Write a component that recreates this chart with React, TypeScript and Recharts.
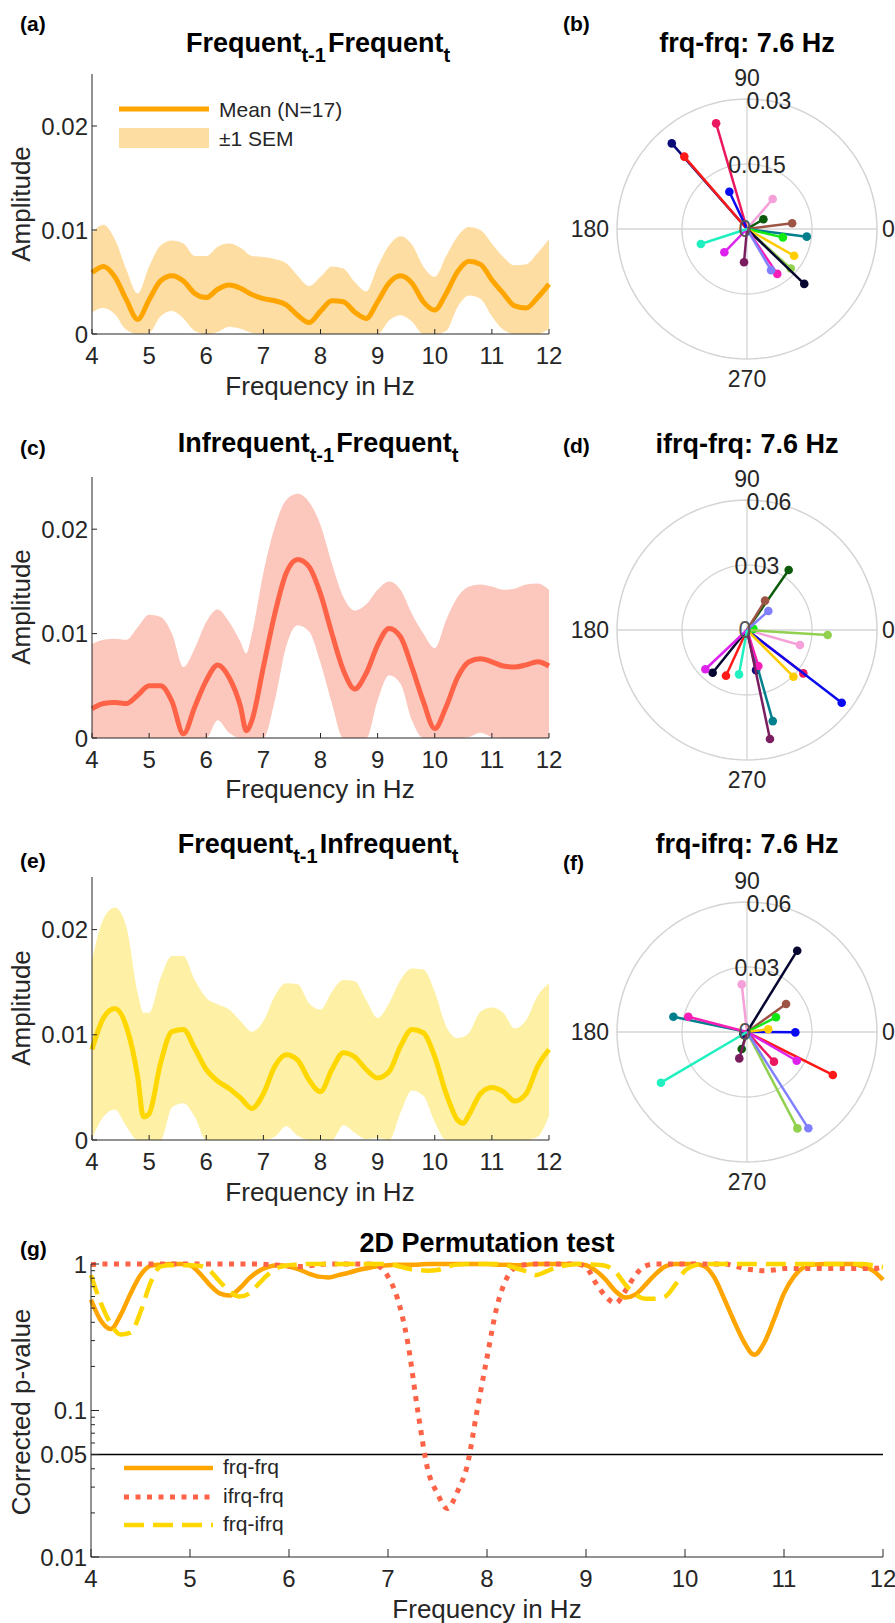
import React from "react";
import {
  ComposedChart,
  Area,
  Line,
  XAxis,
  YAxis,
  ScatterChart,
  Scatter,
  ReferenceLine,
} from "recharts";

const FONT = '"Liberation Sans", Arial, Helvetica, sans-serif';
const INK = "#262626";
const GRID = "#d4d4d4";

// (a) Frequent(t-1) -> Frequent(t)
const freqA = [4, 4.2, 4.4, 4.6, 4.8, 5, 5.2, 5.4, 5.6, 5.8, 6, 6.2, 6.4, 6.6, 6.8, 7, 7.2, 7.4, 7.6, 7.8, 8, 8.2, 8.4, 8.6, 8.8, 9, 9.2, 9.4, 9.6, 9.8, 10, 10.2, 10.4, 10.6, 10.8, 11, 11.2, 11.4, 11.6, 11.8, 12];
const meanA = [0.0059, 0.0065, 0.0055, 0.0033, 0.0014, 0.0033, 0.0051, 0.0056, 0.0051, 0.0039, 0.0035, 0.0043, 0.0047, 0.0044, 0.0038, 0.0034, 0.0032, 0.0028, 0.0018, 0.0011, 0.0022, 0.0032, 0.0031, 0.0021, 0.0015, 0.0031, 0.0049, 0.0056, 0.0049, 0.0031, 0.0023, 0.0039, 0.006, 0.007, 0.0067, 0.0052, 0.0039, 0.0027, 0.0025, 0.0035, 0.0048];
const semA = [0.0038, 0.004, 0.0036, 0.0029, 0.0025, 0.0032, 0.0034, 0.0034, 0.0036, 0.0036, 0.004, 0.0041, 0.004, 0.0039, 0.0037, 0.004, 0.004, 0.004, 0.0038, 0.0035, 0.0033, 0.0033, 0.0032, 0.0029, 0.0026, 0.0034, 0.0036, 0.0038, 0.0037, 0.0034, 0.0032, 0.0036, 0.0034, 0.0033, 0.0033, 0.0035, 0.0035, 0.0039, 0.0042, 0.0043, 0.0043];

// (c) Infrequent(t-1) -> Frequent(t)
const freqC = [4, 4.2, 4.4, 4.6, 4.8, 5, 5.2, 5.4, 5.6, 5.8, 6, 6.2, 6.4, 6.6, 6.7, 6.8, 7, 7.2, 7.4, 7.6, 7.8, 8, 8.2, 8.4, 8.6, 8.8, 9, 9.2, 9.4, 9.6, 9.8, 10, 10.2, 10.4, 10.6, 10.8, 11, 11.2, 11.4, 11.6, 11.8, 12];
const meanC = [0.0028, 0.0033, 0.0034, 0.0033, 0.0041, 0.005, 0.005, 0.0035, 0.0004, 0.003, 0.0055, 0.007, 0.0058, 0.003, 0.0007, 0.0017, 0.0068, 0.0119, 0.0158, 0.0171, 0.0164, 0.0138, 0.01, 0.0065, 0.0047, 0.0062, 0.0089, 0.0105, 0.0097, 0.0068, 0.0035, 0.0009, 0.003, 0.0058, 0.0073, 0.0076, 0.0073, 0.0069, 0.0068, 0.007, 0.0073, 0.0069];
const semC = [0.0062, 0.0061, 0.0061, 0.0061, 0.0065, 0.0068, 0.0066, 0.0065, 0.0064, 0.0056, 0.0056, 0.0053, 0.0053, 0.0062, 0.0074, 0.0083, 0.009, 0.0083, 0.007, 0.0063, 0.0062, 0.0066, 0.0067, 0.007, 0.0075, 0.0066, 0.0053, 0.0045, 0.0045, 0.0051, 0.0065, 0.0077, 0.0083, 0.0077, 0.0072, 0.0071, 0.0072, 0.0073, 0.0075, 0.0077, 0.0075, 0.0073];

// (e) Frequent(t-1) -> Infrequent(t)
const freqE = [4, 4.2, 4.4, 4.6, 4.8, 4.9, 5, 5.2, 5.4, 5.6, 5.8, 6, 6.2, 6.4, 6.6, 6.8, 7, 7.2, 7.4, 7.6, 7.8, 8, 8.2, 8.4, 8.6, 8.8, 9, 9.2, 9.4, 9.6, 9.8, 10, 10.2, 10.4, 10.5, 10.6, 10.8, 11, 11.2, 11.4, 11.6, 11.8, 12];
const meanE = [0.0086, 0.0116, 0.0125, 0.0108, 0.006, 0.0022, 0.0025, 0.0073, 0.0103, 0.0105, 0.0087, 0.0067, 0.0056, 0.0049, 0.004, 0.003, 0.0044, 0.007, 0.0081, 0.0076, 0.0057, 0.0046, 0.0067, 0.0083, 0.0079, 0.0067, 0.0059, 0.0065, 0.0089, 0.0105, 0.0102, 0.0079, 0.0044, 0.0019, 0.0016, 0.0024, 0.0044, 0.005, 0.0046, 0.0037, 0.0044, 0.007, 0.0086];
const semE = [0.0085, 0.0094, 0.0096, 0.0095, 0.008, 0.0099, 0.0096, 0.0081, 0.0072, 0.007, 0.0065, 0.0068, 0.0073, 0.0075, 0.0073, 0.0073, 0.0069, 0.0067, 0.0068, 0.0072, 0.0073, 0.0078, 0.0074, 0.0069, 0.0072, 0.0066, 0.0057, 0.0065, 0.0063, 0.0058, 0.006, 0.0062, 0.0064, 0.0078, 0.0082, 0.0078, 0.0078, 0.0076, 0.0075, 0.0069, 0.007, 0.0067, 0.0063];

// (g) corrected p-values
const freqG = [4, 4.1, 4.2, 4.3, 4.4, 4.5, 4.6, 4.7, 4.8, 4.9, 5, 5.1, 5.2, 5.3, 5.4, 5.5, 5.6, 5.7, 5.8, 5.9, 6, 6.1, 6.2, 6.3, 6.4, 6.5, 6.6, 6.7, 6.8, 6.9, 7, 7.1, 7.2, 7.3, 7.4, 7.5, 7.6, 7.7, 7.8, 7.9, 8, 8.1, 8.2, 8.3, 8.4, 8.5, 8.6, 8.7, 8.8, 8.9, 9, 9.1, 9.2, 9.3, 9.4, 9.5, 9.6, 9.7, 9.8, 9.9, 10, 10.1, 10.2, 10.3, 10.4, 10.5, 10.6, 10.7, 10.8, 10.9, 11, 11.1, 11.2, 11.3, 11.4, 11.5, 11.6, 11.7, 11.8, 11.9, 12];
const pFrqFrq = [0.57, 0.41, 0.36, 0.45, 0.63, 0.84, 0.97, 0.99, 1, 1, 0.98, 0.86, 0.72, 0.63, 0.61, 0.68, 0.8, 0.9, 0.96, 0.98, 0.96, 0.92, 0.86, 0.82, 0.81, 0.84, 0.87, 0.91, 0.94, 0.97, 0.98, 0.99, 0.99, 0.99, 1, 1, 1, 1, 1, 1, 1, 0.99, 0.99, 0.98, 0.99, 1, 1, 1, 1, 1, 0.98, 0.9, 0.78, 0.65, 0.59, 0.62, 0.72, 0.85, 0.96, 1, 1, 1, 0.96, 0.8, 0.57, 0.4, 0.29, 0.24, 0.29, 0.42, 0.63, 0.82, 0.95, 0.99, 1, 1, 1, 1, 0.96, 0.9, 0.78];
const pIfrqFrq = [0.99, 1, 1, 1, 1, 1, 1, 1, 1, 1, 1, 1, 1, 1, 1, 1, 1, 1, 0.99, 0.98, 0.97, 0.96, 0.97, 0.99, 1, 1, 1, 1, 1, 0.97, 0.82, 0.57, 0.29, 0.1, 0.04, 0.027, 0.0214, 0.0278, 0.042, 0.1, 0.23, 0.51, 0.8, 0.96, 0.99, 1, 1, 1, 1, 1, 0.95, 0.74, 0.6, 0.54, 0.66, 0.84, 0.97, 1, 1, 1, 1, 1, 1, 1, 1, 0.97, 0.93, 0.91, 0.9, 0.91, 0.93, 0.93, 0.93, 0.93, 0.93, 0.93, 0.93, 0.93, 0.93, 0.93, 0.95];
const pFrqIfrq = [0.84, 0.54, 0.39, 0.33, 0.34, 0.47, 0.74, 0.96, 0.98, 0.98, 0.98, 0.97, 0.9, 0.76, 0.65, 0.6, 0.63, 0.74, 0.86, 0.95, 0.98, 0.99, 1, 1, 1, 1, 1, 1, 1, 1, 1, 0.97, 0.93, 0.91, 0.9, 0.91, 0.96, 0.99, 1, 1, 1, 1, 0.98, 0.93, 0.89, 0.84, 0.89, 0.95, 0.98, 1, 1, 0.99, 0.97, 0.88, 0.72, 0.62, 0.58, 0.58, 0.6, 0.72, 0.9, 0.98, 1, 1, 1, 1, 1, 1, 1, 1, 1, 1, 1, 1, 1, 1, 1, 1, 1, 0.98, 0.95];

// per-subject phase vectors at 7.6 Hz (angle in degrees, amplitude)
const subjectColors = ["#0a0a78", "#ff1a1a", "#eb1760", "#0a0af0", "#f5a0d8", "#0a5a0a", "#9c5444", "#00808c", "#12e812", "#ffcc00", "#92d050", "#050530", "#f81eb8", "#8080ff", "#7a1e60", "#dd22ee", "#20f0c0"];
const angB = [131.3, 130.9, 106.3, 115.4, 49.4, 30.7, 7.2, 352.7, 346.9, 330.4, 318, 316.2, 304, 300.3, 264.9, 225.8, 198];
const ampB = [0.0263, 0.0221, 0.0254, 0.0095, 0.0091, 0.0044, 0.0105, 0.0139, 0.0085, 0.0125, 0.0136, 0.0183, 0.0125, 0.011, 0.0077, 0.0075, 0.0112];
const angD = [282.7, 245.3, 322.4, 322.5, 344.2, 55.2, 58.4, 285.8, 10, 314.8, 356.5, 231.2, 287.5, 41.7, 281.9, 223.3, 259.8];
const ampD = [0.019, 0.0232, 0.0328, 0.0551, 0.0254, 0.0337, 0.0159, 0.0437, 0.003, 0.0304, 0.0373, 0.0253, 0.0174, 0.0132, 0.0514, 0.0264, 0.0208];
const angF = [212, 333.4, 312.3, 359.6, 96.3, 252.7, 35.7, 168.3, 26.9, 7.2, 297.6, 58.3, 165.4, 302.5, 253.7, 330, 210.5];
const ampF = [0.002, 0.0443, 0.0185, 0.0223, 0.0221, 0.0082, 0.0222, 0.0347, 0.015, 0.0099, 0.0502, 0.0441, 0.028, 0.0527, 0.0127, 0.0265, 0.0461];

const hzTicks = [4, 5, 6, 7, 8, 9, 10, 11, 12];
const ampTicks = [0, 0.01, 0.02];
const pTicks = [0.01, 0.02, 0.03, 0.04, 0.05, 0.06, 0.07, 0.08, 0.09, 0.1, 0.2, 0.3, 0.4, 0.5, 0.6, 0.7, 0.8, 0.9, 1];
const pMajor = [0.01, 0.05, 0.1, 1];

const bandRows = (f: number[], m: number[], s: number[]) =>
  f.map((x, i) => ({ f: x, mean: m[i], band: [Math.max(0, m[i] - s[i]), m[i] + s[i]] }));

const rowsG = freqG.map((f, i) => ({ f, ff: pFrqFrq[i], iff: pIfrqFrq[i], fif: pFrqIfrq[i] }));

const yTick = (len: number, major?: number[]) => (props: any) => {
  const { x, y, payload } = props;
  const v = payload.value;
  const isMajor = major ? major.includes(v) : true;
  return (
    <g>
      <line x1={x} y1={y} x2={x + (isMajor ? len : len / 2)} y2={y} stroke={INK} />
      {isMajor && (
        <text x={x - 4} y={y + 8.5} textAnchor="end" fontSize={24} fill={INK} fontFamily={FONT}>
          {String(v)}
        </text>
      )}
    </g>
  );
};

const xTick = (len: number) => (props: any) => {
  const { x, y, payload } = props;
  return (
    <g>
      <line x1={x} y1={y} x2={x} y2={y - len} stroke={INK} />
      <text x={x} y={y + 29.5} textAnchor="middle" fontSize={24} fill={INK} fontFamily={FONT}>
        {payload.value}
      </text>
    </g>
  );
};

function SpectrumPanel({ top, plotTop, plotBottom, rows, line, band }: any) {
  const H = 400;
  return (
    <div style={{ position: "absolute", left: 0, top }}>
      <ComposedChart
        width={580}
        height={H}
        data={rows}
        margin={{ top: plotTop - top, right: 31, bottom: 0, left: 0 }}
      >
        <XAxis
          type="number"
          dataKey="f"
          domain={[4, 12]}
          ticks={hzTicks}
          interval={0}
          tickSize={0}
          tickMargin={0}
          tickLine={false}
          axisLine={{ stroke: INK }}
          tick={xTick(5)}
          height={H - (plotBottom - top)}
        />
        <YAxis
          type="number"
          domain={[0, 0.025]}
          ticks={ampTicks}
          interval={0}
          width={92}
          tickSize={0}
          tickMargin={0}
          tickLine={false}
          axisLine={{ stroke: INK }}
          tick={yTick(5)}
        />
        <Area type="monotone" dataKey="band" stroke="none" fill={band} fillOpacity={1} isAnimationActive={false} />
        <Line type="monotone" dataKey="mean" stroke={line} strokeWidth={5} dot={false} isAnimationActive={false} />
      </ComposedChart>
    </div>
  );
}

const ring = (r: number) =>
  Array.from({ length: 121 }, (_, k) => ({ x: r * Math.cos((k * 3 * Math.PI) / 180), y: r * Math.sin((k * 3 * Math.PI) / 180) }));

const noDot = () => <g />;

function PolarPanel({ cx, cy, rmax, ang, amp }: any) {
  const R = 130;
  const M = 24;
  return (
    <div style={{ position: "absolute", left: cx - R - M, top: cy - R - M }}>
      <ScatterChart width={2 * (R + M)} height={2 * (R + M)} margin={{ top: M, right: M, bottom: M, left: M }}>
        <XAxis type="number" dataKey="x" domain={[-rmax, rmax]} ticks={[-rmax, 0, rmax]} hide />
        <YAxis type="number" dataKey="y" domain={[-rmax, rmax]} ticks={[-rmax, 0, rmax]} hide />
        <ReferenceLine x={0} stroke={GRID} strokeWidth={1.3} />
        <ReferenceLine y={0} stroke={GRID} strokeWidth={1.3} />
        <Scatter data={ring(rmax)} line={{ stroke: GRID, strokeWidth: 1.5 }} shape={noDot} isAnimationActive={false} />
        <Scatter data={ring(rmax / 2)} line={{ stroke: GRID, strokeWidth: 1.3 }} shape={noDot} isAnimationActive={false} />
        {subjectColors.map((c, i) => {
          const t = (ang[i] * Math.PI) / 180;
          const pts = [
            { x: 0, y: 0 },
            { x: amp[i] * Math.cos(t), y: amp[i] * Math.sin(t), tip: true },
          ];
          return (
            <Scatter
              key={i}
              data={pts}
              fill={c}
              line={{ stroke: c, strokeWidth: 2.5 }}
              shape={(p: any) => (p.payload && p.payload.tip ? <circle cx={p.cx} cy={p.cy} r={4.3} fill={c} /> : <g />)}
              isAnimationActive={false}
            />
          );
        })}
      </ScatterChart>
    </div>
  );
}

function SubTitle({ x, y, a, b }: { x: number; y: number; a: string; b: string }) {
  return (
    <text x={x} y={y} textAnchor="middle" fontWeight="bold" fontSize={27} fill="#000" fontFamily={FONT}>
      <tspan>{a}</tspan>
      <tspan fontSize={20} dy={10}>t-1</tspan>
      <tspan dy={-10} dx={2}>{b}</tspan>
      <tspan fontSize={20} dy={10}>t</tspan>
    </text>
  );
}

function PolarLabels({ cx, cy, outer, inner }: { cx: number; cy: number; outer: string; inner: string }) {
  const s = { fontSize: 23, fill: INK, fontFamily: FONT } as const;
  return (
    <g>
      <text {...s} x={cx} y={cy - 143} textAnchor="middle">90</text>
      <text {...s} x={cx + 22} y={cy - 120} textAnchor="middle">{outer}</text>
      <text {...s} x={cx + 10} y={cy - 56} textAnchor="middle">{inner}</text>
      <text {...s} x={cx - 2} y={cy + 8} textAnchor="middle" fill="#555">0</text>
      <text {...s} x={cx - 138} y={cy + 8} textAnchor="end">180</text>
      <text {...s} x={cx + 135} y={cy + 8} textAnchor="start">0</text>
      <text {...s} x={cx} y={cy + 158} textAnchor="middle">270</text>
    </g>
  );
}

const panelLetter = { fontSize: 21, fontWeight: "bold", fill: "#000", fontFamily: FONT } as const;
const axisText = { fontSize: 26, fill: INK, fontFamily: FONT } as const;
const polarTitle = { fontSize: 27, fontWeight: "bold", fill: "#000", fontFamily: FONT, textAnchor: "middle" } as const;

export default function App() {
  return (
    <div style={{ position: "absolute", left: 0, top: 0, width: 895, height: 1623, background: "#fff", overflow: "hidden" }}>
      <SpectrumPanel top={0} plotTop={74} plotBottom={334} rows={bandRows(freqA, meanA, semA)} line="#ffa500" band="#fedda3" />
      <SpectrumPanel top={400} plotTop={477} plotBottom={738} rows={bandRows(freqC, meanC, semC)} line="#ff6347" band="#fcc7bc" />
      <SpectrumPanel top={800} plotTop={877} plotBottom={1140} rows={bandRows(freqE, meanE, semE)} line="#ffd700" band="#fef0a5" />

      <PolarPanel cx={747} cy={229} rmax={0.03} ang={angB} amp={ampB} />
      <PolarPanel cx={747} cy={630} rmax={0.06} ang={angD} amp={ampD} />
      <PolarPanel cx={747} cy={1032} rmax={0.06} ang={angF} amp={ampF} />

      <div style={{ position: "absolute", left: 0, top: 1180 }}>
        <ComposedChart width={895} height={443} data={rowsG} margin={{ top: 84, right: 12, bottom: 0, left: 0 }}>
          <XAxis
            type="number"
            dataKey="f"
            domain={[4, 12]}
            ticks={hzTicks}
            interval={0}
            tickSize={0}
            tickMargin={0}
            tickLine={false}
            axisLine={{ stroke: INK }}
            tick={xTick(8)}
            height={66}
          />
          <YAxis
            type="number"
            scale="log"
            domain={[0.01, 1]}
            ticks={pTicks}
            interval={0}
            width={91}
            tickSize={0}
            tickMargin={0}
            tickLine={false}
            axisLine={{ stroke: INK }}
            tick={yTick(8, pMajor)}
          />
          <ReferenceLine y={0.05} stroke="#000" strokeWidth={1.5} />
          <Line type="monotone" dataKey="ff" stroke="#ffa500" strokeWidth={4.5} dot={false} isAnimationActive={false} />
          <Line type="monotone" dataKey="iff" stroke="#ff6347" strokeWidth={5} strokeDasharray="5 6.5" dot={false} isAnimationActive={false} />
          <Line type="monotone" dataKey="fif" stroke="#ffd700" strokeWidth={4.5} strokeDasharray="20 9" dot={false} isAnimationActive={false} />
        </ComposedChart>
      </div>

      <svg width={895} height={1623} style={{ position: "absolute", left: 0, top: 0, pointerEvents: "none" }}>
        <text {...panelLetter} x={20} y={31}>(a)</text>
        <text {...panelLetter} x={563} y={31}>(b)</text>
        <text {...panelLetter} x={20} y={455}>(c)</text>
        <text {...panelLetter} x={563} y={453}>(d)</text>
        <text {...panelLetter} x={20} y={868}>(e)</text>
        <text {...panelLetter} x={563} y={870}>(f)</text>
        <text {...panelLetter} x={20} y={1256}>(g)</text>

        <SubTitle x={318} y={52} a="Frequent" b="Frequent" />
        <SubTitle x={318} y={452} a="Infrequent" b="Frequent" />
        <SubTitle x={318} y={853} a="Frequent" b="Infrequent" />
        <text {...polarTitle} x={747} y={52}>frq-frq: 7.6 Hz</text>
        <text {...polarTitle} x={747} y={453}>ifrq-frq: 7.6 Hz</text>
        <text {...polarTitle} x={747} y={853}>frq-ifrq: 7.6 Hz</text>
        <text {...polarTitle} x={487} y={1252}>2D Permutation test</text>

        <text {...axisText} x={320} y={395} textAnchor="middle">Frequency in Hz</text>
        <text {...axisText} x={320} y={798} textAnchor="middle">Frequency in Hz</text>
        <text {...axisText} x={320} y={1201} textAnchor="middle">Frequency in Hz</text>
        <text {...axisText} x={487} y={1618} textAnchor="middle">Frequency in Hz</text>
        <text {...axisText} transform="translate(30,204) rotate(-90)" textAnchor="middle">Amplitude</text>
        <text {...axisText} transform="translate(30,607) rotate(-90)" textAnchor="middle">Amplitude</text>
        <text {...axisText} transform="translate(30,1008) rotate(-90)" textAnchor="middle">Amplitude</text>
        <text {...axisText} transform="translate(30,1412) rotate(-90)" textAnchor="middle">Corrected p-value</text>

        <PolarLabels cx={747} cy={229} outer="0.03" inner="0.015" />
        <PolarLabels cx={747} cy={630} outer="0.06" inner="0.03" />
        <PolarLabels cx={747} cy={1032} outer="0.06" inner="0.03" />

        {/* legend (a) */}
        <line x1={119} x2={209} y1={109} y2={109} stroke="#ffa500" strokeWidth={5} />
        <rect x={119} y={128} width={90} height={20} fill="#fedda3" />
        <text x={219} y={117} fontSize={21} fill={INK} fontFamily={FONT}>Mean (N=17)</text>
        <text x={219} y={146} fontSize={21} fill={INK} fontFamily={FONT}>±1 SEM</text>

        {/* legend (g) */}
        <line x1={124} x2={213} y1={1468} y2={1468} stroke="#ffa500" strokeWidth={4.5} />
        <line x1={124} x2={213} y1={1497} y2={1497} stroke="#ff6347" strokeWidth={5} strokeDasharray="5 6.5" />
        <line x1={124} x2={213} y1={1525} y2={1525} stroke="#ffd700" strokeWidth={4.5} strokeDasharray="20 9" />
        <text x={223} y={1474} fontSize={21} fill={INK} fontFamily={FONT}>frq-frq</text>
        <text x={223} y={1503} fontSize={21} fill={INK} fontFamily={FONT}>ifrq-frq</text>
        <text x={223} y={1531} fontSize={21} fill={INK} fontFamily={FONT}>frq-ifrq</text>
      </svg>
    </div>
  );
}
